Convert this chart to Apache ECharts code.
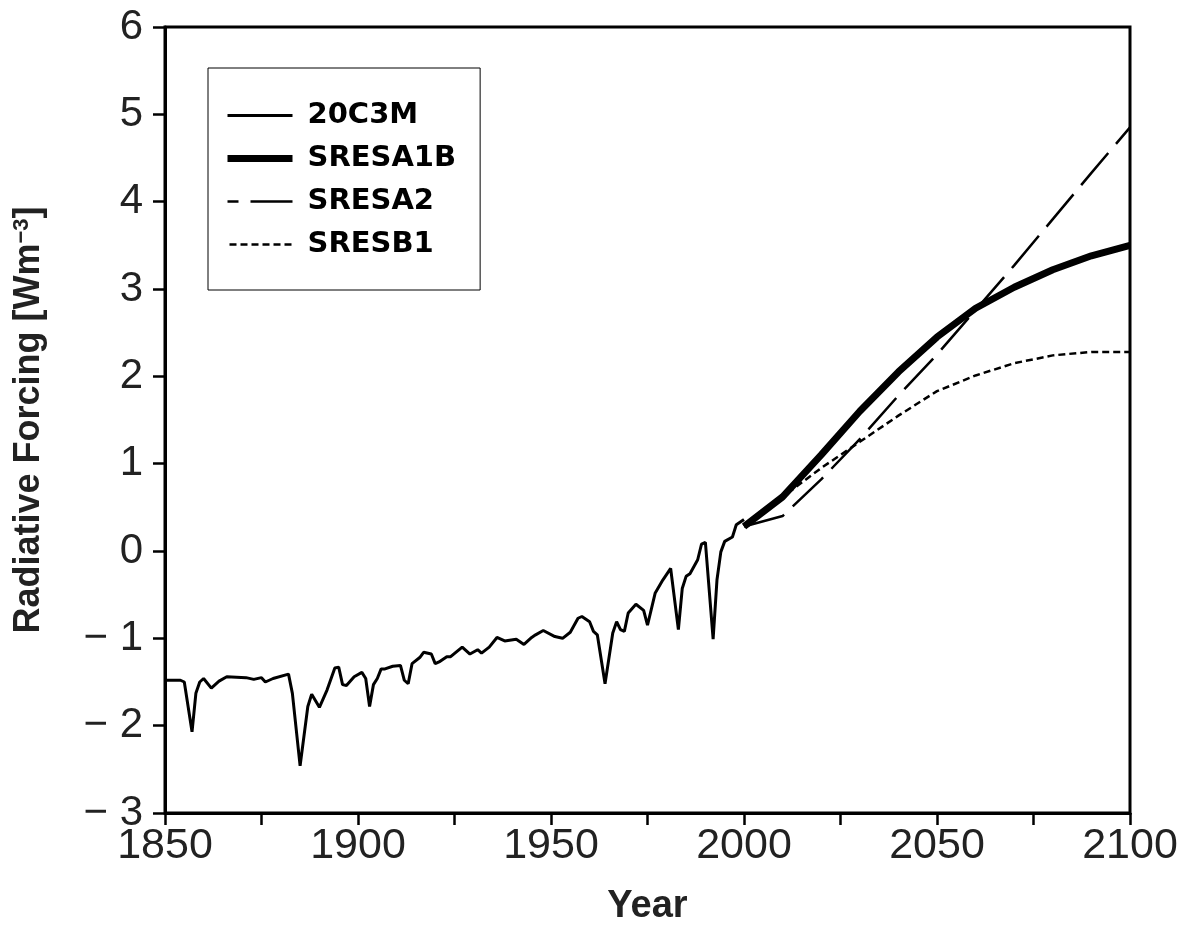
<!DOCTYPE html>
<html>
<head>
<meta charset="utf-8">
<script src="https://cdn.jsdelivr.net/npm/echarts@6/dist/echarts.min.js"></script>
<style>
  html, body { margin: 0; padding: 0; background: #fff; }
  #chart { width: 1192px; height: 938px; }
</style>
</head>
<body>
<div id="chart"></div>
<script>
// 20C3M historical forcing (year, value)
const histYears = [1850, 1854, 1855, 1857, 1858, 1859, 1860, 1862, 1864, 1866, 1871, 1873, 1875, 1876, 1878,
  1882, 1883, 1885, 1887, 1888, 1890, 1892, 1894, 1895, 1896, 1897, 1899, 1901, 1902, 1903, 1904, 1905,
  1906, 1907, 1909, 1911, 1912, 1913, 1914, 1916, 1917, 1919, 1920, 1921, 1923, 1924, 1927, 1929, 1931,
  1932, 1934, 1936, 1938, 1941, 1943, 1945, 1946, 1948, 1951, 1953, 1955, 1957, 1958, 1960, 1961, 1962,
  1964, 1966, 1967, 1968, 1969, 1970, 1972, 1974, 1975, 1977, 1979, 1981, 1983, 1984, 1985, 1986, 1988,
  1989, 1990, 1992, 1993, 1994, 1995, 1997, 1998, 2000];
const histValues = [-1.48, -1.48, -1.50, -2.07, -1.63, -1.50, -1.46, -1.57, -1.49, -1.44, -1.45, -1.47, -1.45, -1.50, -1.46,
  -1.41, -1.63, -2.46, -1.78, -1.64, -1.79, -1.59, -1.34, -1.33, -1.53, -1.54, -1.44, -1.39, -1.46, -1.78, -1.53, -1.46,
  -1.35, -1.35, -1.32, -1.31, -1.48, -1.52, -1.29, -1.22, -1.16, -1.18, -1.29, -1.27, -1.21, -1.21, -1.10, -1.18, -1.13,
  -1.17, -1.10, -0.99, -1.03, -1.01, -1.07, -0.99, -0.96, -0.91, -0.98, -1.00, -0.93, -0.77, -0.75, -0.81, -0.92, -0.96,
  -1.52, -0.94, -0.81, -0.90, -0.92, -0.71, -0.61, -0.68, -0.85, -0.48, -0.33, -0.20, -0.90, -0.43, -0.29, -0.26, -0.10,
  0.08, 0.10, -1.01, -0.33, -0.01, 0.11, 0.16, 0.30, 0.36];

// scenario projections, one value per decade
const scenYears = [2000, 2010, 2020, 2030, 2040, 2050, 2060, 2070, 2080, 2090, 2100];
const a1bValues = [0.28, 0.62, 1.10, 1.60, 2.05, 2.45, 2.78, 3.02, 3.22, 3.38, 3.50];
const a2Values = [0.28, 0.40, 0.82, 1.28, 1.78, 2.25, 2.76, 3.27, 3.80, 4.33, 4.85];
const b1Values = [0.28, 0.62, 0.95, 1.25, 1.55, 1.83, 2.01, 2.15, 2.24, 2.28, 2.28];

const seriesNames = ['20C3M', 'SRESA1B', 'SRESA2', 'SRESB1'];

const zip = (xs, ys) => xs.map((x, i) => [x, ys[i]]);
const minus = v => String(v).replace('-', '\u2212 ');

const chart = echarts.init(document.getElementById('chart'), null, { renderer: 'canvas' });

const lineSeries = (name, data, width, type) => ({
  name: name,
  type: 'line',
  data: data,
  symbol: 'none',
  showSymbol: false,
  smooth: false,
  color: '#000',
  itemStyle: { color: '#000' },
  lineStyle: { color: '#000', width: width, type: type },
  emphasis: { disabled: true },
  animation: false
});

chart.setOption({
  backgroundColor: '#fff',
  animation: false,
  grid: {
    left: 165, right: 62, top: 27, bottom: 125,
    show: true, borderColor: '#000', borderWidth: 3
  },
  legend: {
    data: [
      { name: seriesNames[0] },
      { name: seriesNames[1] },
      { name: seriesNames[2], lineStyle: { dashOffset: 31 } },
      { name: seriesNames[3] }
    ],
    orient: 'vertical',
    left: 208, top: 68,
    padding: [33, 24, 31, 16],
    itemWidth: 65,
    itemHeight: 20,
    itemGap: 14,
    borderColor: '#000',
    borderWidth: 1,
    backgroundColor: '#fff',
    itemStyle: { opacity: 0 },
    lineStyle: { width: 'inherit', type: 'inherit', color: '#000' },
    textStyle: {
      fontFamily: 'DejaVu Sans',
      fontWeight: 'bold',
      fontSize: 29,
      color: '#000',
      padding: [0, 0, 0, 10]
    },
    selectedMode: false
  },
  xAxis: {
    type: 'value',
    min: 1850, max: 2100, interval: 25,
    name: 'Year',
    nameLocation: 'middle',
    nameGap: 75,
    nameTextStyle: { fontFamily: 'Liberation Sans', fontWeight: 'bold', fontSize: 38, color: '#222' },
    axisLine: { onZero: false, lineStyle: { color: '#000', width: 3 } },
    axisTick: { inside: false, length: 12, lineStyle: { color: '#000', width: 2.5 } },
    splitLine: { show: false },
    axisLabel: {
      margin: 12,
      fontFamily: 'Liberation Sans',
      fontSize: 43,
      color: '#222',
      formatter: v => (v % 50 === 0 ? String(v) : '')
    }
  },
  yAxis: {
    type: 'value',
    min: -3, max: 6, interval: 1,
    name: 'Radiative Forcing [Wm{sup|\u22123}]',
    nameLocation: 'middle',
    nameGap: 118,
    nameRotate: 90,
    nameTextStyle: {
      fontFamily: 'Liberation Sans', fontWeight: 'bold', fontSize: 36, color: '#222',
      rich: { sup: { fontFamily: 'Liberation Sans', fontWeight: 'bold', fontSize: 22, color: '#222', verticalAlign: 'top', padding: [0, 0, 14, 0] } }
    },
    axisLine: { onZero: false, lineStyle: { color: '#000', width: 3 } },
    axisTick: { inside: false, length: 12, lineStyle: { color: '#000', width: 2.5 } },
    splitLine: { show: false },
    axisLabel: {
      margin: 22,
      fontFamily: 'Liberation Sans',
      fontSize: 42,
      color: '#222',
      formatter: v => minus(v)
    }
  },
  series: [
    lineSeries(seriesNames[0], zip(histYears, histValues), 3, 'solid'),
    lineSeries(seriesNames[1], zip(scenYears, a1bValues), 7, 'solid'),
    lineSeries(seriesNames[2], zip(scenYears, a2Values), 2.5, [42, 12]),
    lineSeries(seriesNames[3], zip(scenYears, b1Values), 2.5, [7, 4])
  ]
});
</script>
</body>
</html>
